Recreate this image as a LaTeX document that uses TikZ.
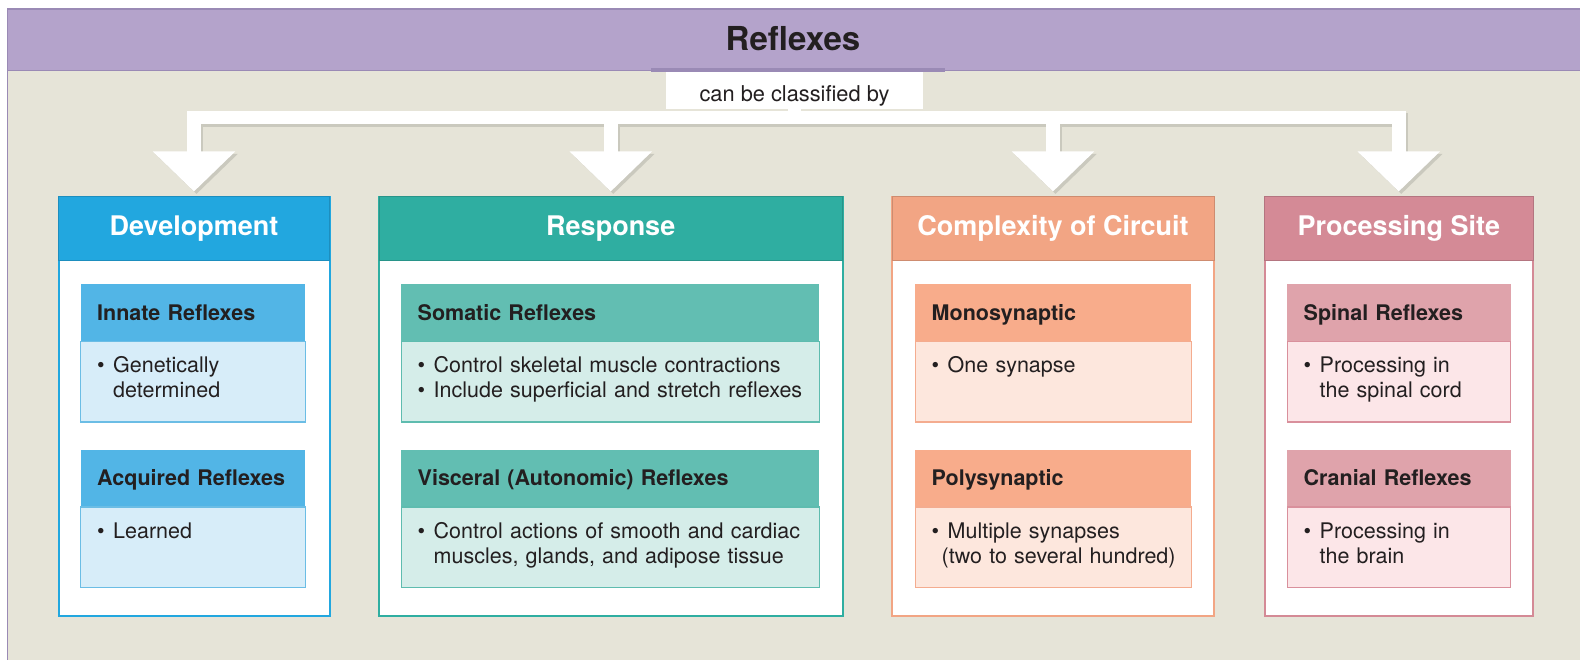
\documentclass[tikz,border=0pt]{standalone}
\usepackage{fontspec}
\setmainfont{TeX Gyre Heros}
\usepackage{tikz}
\usetikzlibrary{arrows.meta, positioning}
\definecolor{pageBG}{HTML}{E6E4D8}
\definecolor{bandPurple}{HTML}{B4A3CB}
\definecolor{edgePurple}{HTML}{9A8AB5}
\definecolor{inkText}{HTML}{231F20}
\definecolor{devHead}{HTML}{22A7DF}
\definecolor{devSub}{HTML}{52B5E6}
\definecolor{devBody}{HTML}{D7EDF9}
\definecolor{devEdge}{HTML}{6BBDE5}
\definecolor{respHead}{HTML}{2FAEA1}
\definecolor{respSub}{HTML}{62BEB2}
\definecolor{respBody}{HTML}{D5EDE9}
\definecolor{respEdge}{HTML}{5EBCAF}
\definecolor{circHead}{HTML}{F2A584}
\definecolor{circSub}{HTML}{F8AC8B}
\definecolor{circBody}{HTML}{FDE7DD}
\definecolor{circEdge}{HTML}{F4AC8F}
\definecolor{siteHead}{HTML}{D48A96}
\definecolor{siteSub}{HTML}{DFA3AB}
\definecolor{siteBody}{HTML}{FCE6E8}
\definecolor{siteEdge}{HTML}{D9909C}
\newcommand{\titlefont}{\fontsize{33}{38}\selectfont\bfseries}
\newcommand{\headfont}{\fontsize{27}{31}\selectfont\bfseries}
\newcommand{\bodyfont}{\fontsize{21.5}{25}\selectfont}
\newcommand{\bul}{\textbullet\hspace{8.5pt}}
\newcommand{\cont}{\hphantom{\textbullet\hspace{8.5pt}}}

\begin{document}
\begin{tikzpicture}[x=1pt, y=-1pt,
    colframe/.style={draw=#1, line width=2pt, fill=white, inner sep=0pt},
    colhead/.style={fill=#1, draw=#1!85!black, line width=1pt, minimum height=63.5pt,
      inner sep=0pt, text=white, font=\headfont},
    subhead/.style 2 args={fill=#1, anchor=north west, minimum height=56.5pt, text width=#2,
      inner xsep=16.5pt, inner ysep=0pt, text height=20pt, text depth=4pt,
      align=left, text=inkText, font=\bodyfont\bfseries},
    subbody/.style n args={3}{fill=#1, draw=#2, line width=1.2pt, text width=#3,
      inner xsep=16.5pt, inner ysep=0pt, text height=31pt, text depth=49.5pt,
      align=left, text=inkText, font=\bodyfont},
    bigarrow/.style={draw=white, line width=13.5pt, line join=miter, shorten >=5pt,
      -{Triangle[length=40pt, width=80pt]}},
    arrowshadow/.style={bigarrow, draw=pageBG!88!black,
      transform canvas={shift={(2.5,2.5)}}}]
  \useasboundingbox (0,0) rectangle (1580,660);
  \fill[white] (0,0) rectangle (1580,660);
  % Background and title band
  \fill[pageBG] (8,70) rectangle (1580,660);
  \fill[bandPurple] (8,10) rectangle (1580,70.5);
  \draw[edgePurple, line width=1pt] (8,70.5) -- (1580,70.5);
  \fill[edgePurple] (651,68) rectangle (945,72.5);
  \draw[edgePurple, line width=1.5pt] (1581,9) -- (7.5,9) -- (7.5,661);
  \node[font=\titlefont, text=inkText] (title) at (793,38.5) {Reflexes};
  \node[fill=white, minimum width=257pt, minimum height=37pt, inner sep=0pt,
    text height=22pt, text depth=0pt, font=\fontsize{21.8}{25}\selectfont,
    text=inkText] (lbl) at (794.5,90.75) {can be classified by};
  % Columns
  \node[colframe=devHead, minimum width=271pt, minimum height=418pt, anchor=north] (devbox) at (194,196.5) {};
  \node[colhead=devHead, minimum width=271pt, anchor=north] (dev) at (devbox.north) {Development};
  \node[colframe=respHead, minimum width=463.5pt, minimum height=418pt, anchor=north] (respbox) at (610.75,196.5) {};
  \node[colhead=respHead, minimum width=463.5pt, anchor=north] (resp) at (respbox.north) {Response};
  \node[colframe=circHead, minimum width=322pt, minimum height=418pt, anchor=north] (circbox) at (1053,196.5) {};
  \node[colhead=circHead, minimum width=322pt, anchor=north] (circ) at (circbox.north) {Complexity of Circuit};
  \node[colframe=siteHead, minimum width=268.5pt, minimum height=418pt, anchor=north] (sitebox) at (1398.75,196.5) {};
  \node[colhead=siteHead, minimum width=268.5pt, anchor=north] (site) at (sitebox.north) {Processing Site};
  % Arrows
  \coordinate (bar) at (lbl.south |- 0,117.5);
  \foreach \c in {dev,resp,circ,site}{
    \draw[arrowshadow] (lbl.south) -- (bar) -| (\c.north);
  }
  \foreach \c in {dev,resp,circ,site}{
    \draw[bigarrow] (lbl.south) -- (bar) -| (\c.north);
  }
  % Development
  \node[subhead={devSub}{191.5pt}] (innate) at (80.5,284) {Innate Reflexes};
  \node[subbody={devBody}{devEdge}{191.5pt}, below=0pt of innate] (innatetxt) {\bul Genetically\\\cont determined};
  \node[subhead={devSub}{191.5pt}] (acquired) at (80.5,449.5) {Acquired Reflexes};
  \node[subbody={devBody}{devEdge}{191.5pt}, below=0pt of acquired] (acquiredtxt) {\bul Learned};
  % Response
  \node[subhead={respSub}{385pt}] (somatic) at (401,284) {Somatic Reflexes};
  \node[subbody={respBody}{respEdge}{385pt}, below=0pt of somatic] (somatictxt)
    {\bul Control skeletal muscle contractions\\\bul Include superficial and stretch reflexes};
  \node[subhead={respSub}{385pt}] (visceral) at (401,449.5) {Visceral (Autonomic) Reflexes};
  \node[subbody={respBody}{respEdge}{385pt}, below=0pt of visceral] (visceraltxt)
    {\bul Control actions of smooth and cardiac\\\cont muscles, glands, and adipose tissue};
  % Complexity of circuit
  \node[subhead={circSub}{243pt}] (mono) at (915,284) {Monosynaptic};
  \node[subbody={circBody}{circEdge}{243pt}, below=0pt of mono] (monotxt) {\bul One synapse};
  \node[subhead={circSub}{243pt}] (poly) at (915,449.5) {Polysynaptic};
  \node[subbody={circBody}{circEdge}{243pt}, below=0pt of poly] (polytxt)
    {\bul Multiple synapses\\\hspace*{10pt}\mbox{(two to several hundred)}};
  % Processing site
  \node[subhead={siteSub}{190.5pt}] (spinal) at (1287,284) {Spinal Reflexes};
  \node[subbody={siteBody}{siteEdge}{190.5pt}, below=0pt of spinal] (spinaltxt)
    {\bul Processing in\\\cont the spinal cord};
  \node[subhead={siteSub}{190.5pt}] (cranial) at (1287,449.5) {Cranial Reflexes};
  \node[subbody={siteBody}{siteEdge}{190.5pt}, below=0pt of cranial] (cranialtxt)
    {\bul Processing in\\\cont the brain};
\end{tikzpicture}
\end{document}
